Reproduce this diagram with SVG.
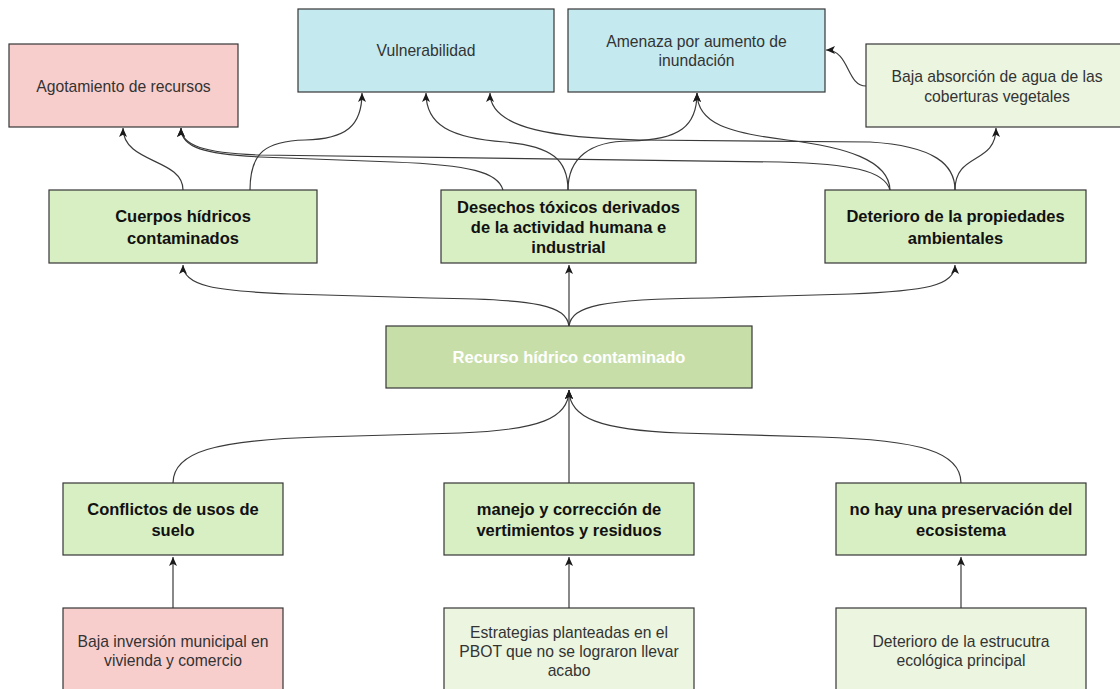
<svg xmlns="http://www.w3.org/2000/svg" width="1120" height="689" viewBox="0 0 1120 689">
<defs>
<marker id="arr" markerWidth="10" markerHeight="10" refX="9" refY="4" orient="auto" markerUnits="userSpaceOnUse">
<path d="M0,0 L9,4 L0,8 L2.2,4 Z" fill="#1a1a1a"/>
</marker>
<style>
rect{stroke:#363636;stroke-width:1.2}
.pink{fill:#f8cecc}
.blue{fill:#c4eaef}
.green{fill:#d8eec3}
.main{fill:#c8dea8}
.light{fill:#ebf5e0}
.t{font-family:"Liberation Sans",Arial,sans-serif;font-size:15.7px;fill:#333;text-anchor:middle}
.b{font-family:"Liberation Sans",Arial,sans-serif;font-size:16.5px;font-weight:bold;fill:#111;text-anchor:middle}
.w{fill:#ffffff}
#connectors path{fill:none;stroke:#3a3a3a;stroke-width:1.2;marker-end:url(#arr)}
</style>
</defs>
<rect width="1120" height="689" fill="#ffffff" style="stroke:none"/>

<g id="connectors">
<path d="M183,190 C183,158 123,164 123,128"/>
<path d="M250,190 C250,152 266,141 305,140 C346,139 362,126 362,93"/>
<path d="M503,190 C498,172 470,165 393,162 L260,157 C205,154 181,148 181,128"/>
<path d="M890,190 C884,170 850,164 780,162 L260,155 C205,153 181,146 181,128"/>
<path d="M568,190 C568,160 552,146 505,142 C450,138 426,125 426,93"/>
<path d="M568,190 C568,158 590,141 630,141 C680,140 697,126 697,93"/>
<path d="M955,190 C955,165 935,146 870,142 L640,140 C560,138 490,130 490,93"/>
<path d="M890,190 C889,160 845,147 787,140 C730,133 697,124 697,93"/>
<path d="M955,190 C955,152 996,165 996,128"/>
<path d="M866,86 C846,86 850,50 826,50"/>
<path d="M569,326 C566,306 540,299 430,298 L290,294 C215,291 183,286 183,265"/>
<path d="M569,326 L569,265"/>
<path d="M569,326 C572,306 600,299 710,298 L850,294 C925,291 955,286 955,265"/>
<path d="M173,483 C173,452 215,440 320,437 L460,433 C540,430 569,418 569,390"/>
<path d="M569,483 L569,390"/>
<path d="M961,483 C961,452 920,440 820,437 L680,433 C600,430 569,418 569,390"/>
<path d="M173,608 L173,557"/>
<path d="M569,608 L569,557"/>
<path d="M961,608 L961,557"/>
</g>

<g id="agotamiento">
<rect class="pink" x="9" y="44" width="229" height="83"/>
<text class="t" x="123.5" y="91.5">Agotamiento de recursos</text>
</g>
<g id="vulnerabilidad">
<rect class="blue" x="298" y="9" width="256" height="83"/>
<text class="t" x="426" y="55.5">Vulnerabilidad</text>
</g>
<g id="amenaza">
<rect class="blue" x="568" y="9" width="257" height="83"/>
<text class="t" x="696.5" y="47"><tspan x="696.5">Amenaza por aumento de</tspan><tspan x="696.5" dy="19">inundación</tspan></text>
</g>
<g id="baja-absorcion">
<rect class="light" x="866" y="44" width="262" height="83"/>
<text class="t" x="997" y="82"><tspan x="997">Baja absorción de agua de las</tspan><tspan x="997" dy="19.5">coberturas vegetales</tspan></text>
</g>
<g id="cuerpos">
<rect class="green" x="49" y="190" width="268" height="73"/>
<text class="b" x="183" y="222"><tspan x="183">Cuerpos hídricos</tspan><tspan x="183" dy="21.5">contaminados</tspan></text>
</g>
<g id="desechos">
<rect class="green" x="441" y="190" width="255" height="73"/>
<text class="b" x="568.5" y="213"><tspan x="568.5">Desechos tóxicos derivados</tspan><tspan x="568.5" dy="20">de la actividad humana e</tspan><tspan x="568.5" dy="20">industrial</tspan></text>
</g>
<g id="deterioro-propiedades">
<rect class="green" x="825" y="190" width="261" height="73"/>
<text class="b" x="955.5" y="222"><tspan x="955.5">Deterioro de la propiedades</tspan><tspan x="955.5" dy="21.5">ambientales</tspan></text>
</g>
<g id="recurso">
<rect class="main" x="386" y="326" width="366" height="62"/>
<text class="b w" x="569" y="363">Recurso hídrico contaminado</text>
</g>
<g id="conflictos">
<rect class="green" x="63" y="483" width="220" height="72"/>
<text class="b" x="173" y="514.5"><tspan x="173">Conflictos de usos de</tspan><tspan x="173" dy="21">suelo</tspan></text>
</g>
<g id="manejo">
<rect class="green" x="444" y="483" width="250" height="72"/>
<text class="b" x="569" y="514.5"><tspan x="569">manejo y corrección de</tspan><tspan x="569" dy="21">vertimientos y residuos</tspan></text>
</g>
<g id="no-hay">
<rect class="green" x="836" y="483" width="250" height="72"/>
<text class="b" x="961" y="514.5"><tspan x="961">no hay una preservación del</tspan><tspan x="961" dy="21">ecosistema</tspan></text>
</g>
<g id="baja-inversion">
<rect class="pink" x="63" y="608" width="220" height="86"/>
<text class="t" x="173" y="646.5"><tspan x="173">Baja inversión municipal en</tspan><tspan x="173" dy="19">vivienda y comercio</tspan></text>
</g>
<g id="estrategias">
<rect class="light" x="444" y="608" width="250" height="86"/>
<text class="t" x="569" y="637.5"><tspan x="569">Estrategias planteadas en el</tspan><tspan x="569" dy="19">PBOT que no se lograron llevar</tspan><tspan x="569" dy="19">acabo</tspan></text>
</g>
<g id="deterioro-estructura">
<rect class="light" x="836" y="608" width="250" height="86"/>
<text class="t" x="961" y="646.5"><tspan x="961">Deterioro de la estrucutra</tspan><tspan x="961" dy="19">ecológica principal</tspan></text>
</g>
</svg>
